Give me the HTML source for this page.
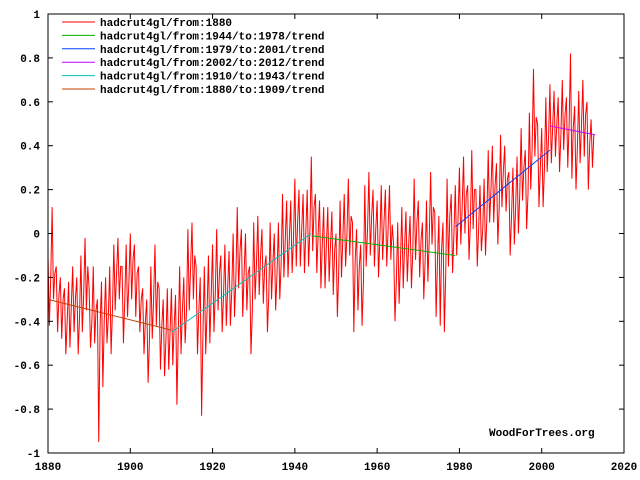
<!DOCTYPE html>
<html><head><meta charset="utf-8"><style>
body{margin:0;background:#fff;}
svg{display:block;}
text{font-family:"Liberation Mono",monospace;font-size:11px;font-weight:bold;fill:#000;}
</style></head><body>
<svg id="chart" width="640" height="480">
<rect x="0" y="0" width="640" height="480" fill="#fff"/>
<g id="plot"></g>
<g id="axes"></g>
<g id="legend"></g>
<text x="489" y="436">WoodForTrees.org</text>
</svg>
<script>
const startYear = 1880;
const samplesPerYear = 3;
const series = [
-0.10,-0.42,-0.20, 0.12,-0.30,-0.18, -0.15,-0.45,-0.28, -0.20,-0.48,-0.30, -0.25,-0.55,-0.40, -0.22,-0.52,-0.33,
-0.15,-0.45,-0.30, -0.20,-0.55,-0.38, -0.10,-0.45,-0.28, -0.02,-0.35,-0.15, -0.25,-0.52,-0.40, -0.15,-0.50,-0.35,
-0.30,-0.95,-0.42, -0.22,-0.70,-0.40, -0.20,-0.50,-0.38, -0.15,-0.55,-0.35, -0.05,-0.35,-0.18, -0.02,-0.30,-0.15,
-0.15,-0.50,-0.30, -0.05,-0.38,-0.22, 0.00,-0.30,-0.12, -0.05,-0.38,-0.18, -0.15,-0.45,-0.30, -0.25,-0.55,-0.40,
-0.30,-0.68,-0.48, -0.15,-0.48,-0.30, -0.05,-0.42,-0.22, -0.25,-0.62,-0.42, -0.30,-0.65,-0.48, -0.25,-0.62,-0.45,
-0.25,-0.60,-0.42, -0.28,-0.78,-0.45, -0.15,-0.55,-0.35, -0.20,-0.50,-0.35, 0.02,-0.35,-0.15, 0.05,-0.30,-0.10,
-0.15,-0.55,-0.35, -0.20,-0.83,-0.45, -0.15,-0.55,-0.35, -0.10,-0.50,-0.28, -0.05,-0.45,-0.27, 0.02,-0.35,-0.18,
-0.10,-0.45,-0.28, -0.05,-0.42,-0.25, -0.08,-0.42,-0.26, 0.00,-0.38,-0.20, 0.12,-0.25,-0.08, 0.02,-0.38,-0.18,
0.00,-0.35,-0.18, -0.15,-0.55,-0.35, 0.05,-0.30,-0.14, 0.08,-0.28,-0.10, 0.02,-0.32,-0.15, -0.10,-0.45,-0.28,
0.05,-0.30,-0.13, 0.00,-0.35,-0.18, 0.05,-0.30,-0.14, 0.18,-0.20,-0.03, 0.15,-0.20,-0.02, 0.15,-0.18,-0.02,
0.25,-0.15, 0.05, 0.20,-0.15, 0.02, 0.18,-0.18, 0.01, 0.20,-0.15, 0.02, 0.35,-0.08, 0.12, 0.18,-0.18, 0.00,
0.15,-0.25,-0.05, 0.12,-0.25,-0.05, 0.12,-0.22,-0.05, 0.10,-0.28,-0.08, 0.00,-0.38,-0.17, 0.15,-0.20,-0.02,
0.18,-0.15, 0.00, 0.25,-0.10, 0.08, 0.05,-0.45,-0.12, 0.02,-0.35,-0.15, -0.05,-0.42,-0.22, 0.22,-0.15, 0.02,
0.28,-0.10, 0.08, 0.20,-0.15, 0.02, 0.15,-0.20,-0.02, 0.22,-0.12, 0.05, 0.20,-0.15, 0.02, 0.22,-0.12, 0.04,
-0.05,-0.40,-0.22, 0.05,-0.32,-0.13, 0.12,-0.25,-0.06, 0.10,-0.22,-0.05, 0.08,-0.25,-0.08, 0.25,-0.12, 0.05,
0.15,-0.20,-0.03, 0.05,-0.30,-0.12, 0.15,-0.22,-0.02, 0.28,-0.05, 0.12, 0.10,-0.38,-0.12, 0.08,-0.42,-0.07,
0.05,-0.45,-0.19, 0.25,-0.15, 0.08, 0.18,-0.18, 0.00, 0.22,-0.10, 0.07, 0.30,-0.05, 0.12, 0.35, 0.00, 0.18,
0.22,-0.12, 0.05, 0.38, 0.02, 0.20, 0.20,-0.15, 0.02, 0.22,-0.08, 0.02, 0.25,-0.10, 0.07, 0.38, 0.05, 0.20,
0.40, 0.05, 0.22, 0.32,-0.05, 0.12, 0.45, 0.12, 0.28, 0.40, 0.10, 0.25, 0.28,-0.10, 0.08, 0.30,-0.05, 0.12,
0.35, 0.00, 0.18, 0.48, 0.15, 0.30, 0.38, 0.02, 0.18, 0.55, 0.20, 0.38, 0.75, 0.35, 0.53, 0.50, 0.12, 0.30,
0.48, 0.12, 0.30, 0.62, 0.28, 0.44, 0.68, 0.32, 0.49, 0.65, 0.35, 0.50, 0.62, 0.28, 0.45, 0.70, 0.38, 0.54,
0.62, 0.30, 0.50, 0.82, 0.25, 0.48, 0.58, 0.20, 0.39, 0.65, 0.32, 0.49, 0.70, 0.35, 0.54, 0.60, 0.20, 0.41,
0.52, 0.30, 0.45
];
const trendNames = ["hadcrut4gl/from:1944/to:1978/trend","hadcrut4gl/from:1979/to:2001/trend","hadcrut4gl/from:2002/to:2012/trend","hadcrut4gl/from:1910/to:1943/trend","hadcrut4gl/from:1880/to:1909/trend"];
const trendStart = [1944, 1979, 2002, 1910, 1880];
const trendEnd = [1979, 2002, 2013, 1944, 1910];
const trendStartVal = [-0.01, 0.03, 0.49, -0.45, -0.30];
const trendEndVal = [-0.10, 0.38, 0.45, 0.00, -0.44];
const trendColors = ["#00b000","#0040ff","#c000ff","#00c0c0","#c04000"];
const xTicks = [1880,1900,1920,1940,1960,1980,2000,2020];
const yTicks = [-1,-0.8,-0.6,-0.4,-0.2,0,0.2,0.4,0.6,0.8,1];

const X0=48,X1=624,Y0=453,Y1=14;
const xs = y => X0 + (y-1880)/(2020-1880)*(X1-X0);
const ys = v => Y0 - (v+1)/2*(Y0-Y1);
const NS="http://www.w3.org/2000/svg";
const plot=document.getElementById('plot'),axes=document.getElementById('axes'),leg=document.getElementById('legend');
function mk(tag,attrs,parent){const e=document.createElementNS(NS,tag);for(const k in attrs)e.setAttribute(k,attrs[k]);parent.appendChild(e);return e;}

// axes frame
const frame=mk('rect',{x:X0,y:Y1,width:X1-X0,height:Y0-Y1,fill:'none',stroke:'#000','stroke-width':1},axes);


xTicks.forEach(t=>{
  const x=xs(t);
  mk('line',{x1:x,y1:Y0,x2:x,y2:Y0-5,stroke:'#000'},axes);
  mk('line',{x1:x,y1:Y1,x2:x,y2:Y1+5,stroke:'#000'},axes);
  const tx=mk('text',{x:x,y:470,'text-anchor':'middle'},axes);tx.textContent=t;
  
  
});
yTicks.forEach(t=>{
  const y=ys(t);
  mk('line',{x1:X0,y1:y,x2:X0+5,y2:y,stroke:'#000'},axes);
  mk('line',{x1:X1,y1:y,x2:X1-5,y2:y,stroke:'#000'},axes);
  const tx=mk('text',{x:40,y:y+4,'text-anchor':'end'},axes);tx.textContent=(Math.round(t*10)/10).toString();
  
  
});

// main series
let d='';
series.forEach((v,i)=>{const yr=startYear+i/samplesPerYear;d+=(i?'L':'M')+xs(yr).toFixed(2)+' '+ys(v).toFixed(2);});
const main=mk('path',{d:d,fill:'none',stroke:'#ff0000','stroke-width':1},plot);



trendNames.forEach((n,i)=>{
  const l=mk('line',{x1:xs(trendStart[i]),y1:ys(trendStartVal[i]),x2:xs(trendEnd[i]),y2:ys(trendEndVal[i]),stroke:trendColors[i],'stroke-width':1},plot);
  
  
});

// legend
const legNames=["hadcrut4gl/from:1880"].concat(trendNames);
const legColors=["#ff0000"].concat(trendColors);
legNames.forEach((n,i)=>{
  const y=22+i*13.4;
  const l=mk('line',{x1:62,y1:y,x2:95,y2:y,stroke:legColors[i]},leg);
  
  
  const t=mk('text',{x:100,y:y+4},leg);t.textContent=n;
  
  
});
</script>
</body></html>
